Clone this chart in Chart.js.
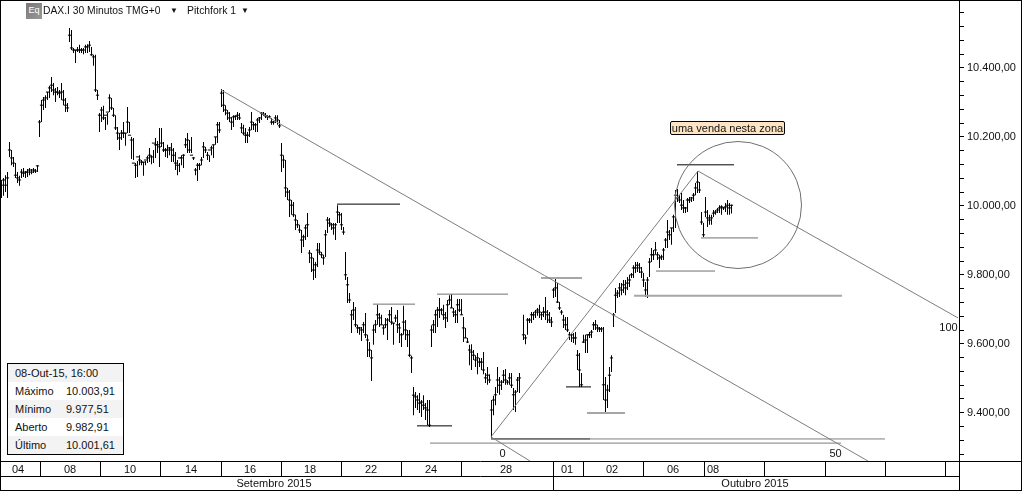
<!DOCTYPE html>
<html>
<head>
<meta charset="utf-8">
<script src="https://cdn.jsdelivr.net/npm/chart.js@4"></script>
<style>
html,body{margin:0;padding:0;background:#fff;width:1022px;height:491px;overflow:hidden}
body{position:relative;font-family:"Liberation Sans",Arial,sans-serif;font-size:11px;color:#111}
canvas{position:absolute;left:0;top:0;outline:1px solid #000;outline-offset:-1px}
.a{position:absolute;white-space:nowrap}
#corner{position:absolute;left:959px;top:461px;width:62px;height:29px;border-top:1px solid #000;border-left:1px solid #000;box-sizing:border-box}
#icon{position:absolute;left:26px;top:3px;width:16px;height:16px;background:linear-gradient(135deg,#777,#999);color:#fff;font-size:9px;line-height:15px;text-align:center}
#note{position:absolute;left:670px;top:121px;width:115px;height:14px;box-sizing:border-box;background:#ffe4c4;border:1px solid #000;border-radius:2px;text-align:center;line-height:12px;font-size:11px}
#info{position:absolute;left:7px;top:363px;width:117px;height:92px;box-sizing:border-box;border:1px solid #000;background:#fff}
#info div.r{position:absolute;left:0;width:115px;height:18px;line-height:18px}
#info span{position:absolute}
</style>
</head>
<body>
<canvas id="c" width="1022" height="491"></canvas>
<div id="corner"></div>
<div id="icon">Eq</div>
<div class="a" style="left:43px;top:4px;font-size:10.3px;line-height:13px">DAX.I 30 Minutos TMG+0</div>
<div class="a" style="left:170px;top:4px;font-size:8px;line-height:13px">▼</div>
<div class="a" style="left:187px;top:4px;font-size:10.4px;line-height:13px">Pitchfork 1</div>
<div class="a" style="left:241px;top:4px;font-size:8px;line-height:13px">▼</div>
<div id="note">uma venda nesta zona</div>
<div id="info">
 <div class="r" style="top:0;background:#f3f3f3"><span style="left:7px">08-Out-15, 16:00</span></div>
 <div class="r" style="top:18px"><span style="left:7px">Máximo</span><span style="left:58px">10.003,91</span></div>
 <div class="r" style="top:36px;background:#f3f3f3"><span style="left:7px">Mínimo</span><span style="left:58px">9.977,51</span></div>
 <div class="r" style="top:54px"><span style="left:7px">Aberto</span><span style="left:58px">9.982,91</span></div>
 <div class="r" style="top:72px;background:#f3f3f3"><span style="left:7px">Último</span><span style="left:58px">10.001,61</span></div>
</div>
<script>
// 30-minute bars, one slot per bar (null = no bar)
const highs = [
10075,10081,10089,10098,10185,10162,10142,10124,10098,10087,
10107,10110,10101,10107,10110,10107,10110,10107,10118,10249,
10307,10316,10321,10330,10348,10374,10356,10342,10345,10336,
10356,10336,10313,10298,10516,10510,10458,10452,10461,10467,
10458,10458,10467,10469,10478,10461,10438,10438,10336,10269,
10287,10290,10258,10269,10324,10313,10284,10263,10229,10211,
10220,10243,10211,10287,10243,10200,10197,10124,10130,10147,
10133,10127,10130,10145,10168,10147,10162,10197,10188,10226,
10226,10185,10168,10177,10171,10182,10168,10156,10133,10124,10147,
10150,10197,10211,10191,10200,10142,10110,10124,10124,
10142,10185,10171,10156,10147,10174,10177,10200,10243,10243,
10339,10336,10292,10278,10272,10258,10263,10263,10272,10269,
10240,10235,10226,10214,10229,10272,10243,10240,10255,10258,
10272,10272,10269,10263,10263,10255,10246,10263,10263,10249,
10182,10147,10133,10052,10046,10017,10011,9974,9959,9945,
9930,9916,9945,9979,9872,9863,9849,9837,9892,9892,
9866,9858,9930,9968,9965,9950,9950,9950,10002,9982,
9979,9939,9866,9794,9747,9698,9721,9707,9655,9649,
9649,9663,9689,9626,9605,9582,9655,9669,9713,9689,
9684,9655,9675,9675,9698,9707,9660,9684,9698,9660,
9631,9710,9669,9640,9640,9565,9475,9460,9451,9457,
9437,9451,9428,9437,9437,9654,9669,9698,9707,9733,
9704,9713,9692,9727,9741,9744,9704,9698,9730,9730,
9730,9678,9646,9617,9597,9599,9582,9567,9573,9559,
9559,9576,9515,9533,9512,9437,9449,9475,9533,9504,
9495,9524,9527,9495,9515,9515,9472,9466,9504,9515,
null,9684,9626,9675,9675,9692,9692,9698,9704,9713,
9692,9707,9736,9698,9692,9678,9762,9788,9776,9721,
9698,9684,9678,9678,9634,9631,9631,9634,9582,9573,
9515,9626,9626,9626,9634,9640,9663,9669,9655,9649,
9649,9649,9504,9481,9533,9567,9689,9762,9756,9776,
9776,9785,9785,9794,9800,9805,9828,9837,9837,9834,
9823,9805,9779,9794,9849,9878,9872,9895,9866,9858,
9858,9878,9907,9959,9930,9936,9974,10046,10049,10031,
10037,10017,9997,10023,10026,10026,10037,10066,10101,10069,
9982,9950,10026,9988,9974,9974,9988,9988,9994,10002,
10002,9997,10008,10017,10008,10003.91];
const lows = [
10023,10029,10040,10023,10142,10118,10113,10081,10066,10058,
10081,10084,10081,10084,10089,10092,10095,10095,10098,10200,
10243,10278,10284,10307,10313,10330,10321,10301,10321,10313,
10307,10292,10272,10272,10475,10452,10443,10414,10446,10443,
10443,10440,10443,10443,10446,10435,10406,10330,10307,10214,
10243,10249,10220,10235,10272,10278,10258,10220,10191,10162,
10191,10197,10174,10211,10211,10136,10133,10081,10084,10118,
10118,10087,10118,10124,10127,10121,10124,10139,10153,10113,
10171,10156,10142,10139,10147,10127,10127,10104,10089,10098,10118,
10110,10168,10153,10153,10153,10133,10089,10072,10104,
10118,10139,10153,10133,10127,10147,10139,10177,10182,10211,
10287,10272,10263,10249,10243,10220,10229,10249,10249,10249,
10211,10205,10182,10182,10200,10220,10220,10214,10214,10240,
10249,10261,10255,10249,10255,10235,10235,10240,10235,10226,
10098,10110,10026,10017,9968,9974,9968,9930,9936,9921,
9863,9881,9901,9910,9834,9808,9785,9791,9823,9858,
9849,9829,9852,9921,9939,9930,9916,9901,9950,9950,
9930,9916,9785,9718,9718,9631,9669,9649,9631,9626,
9608,9631,9617,9562,9562,9492,9597,9631,9655,9649,
9655,9626,9646,9611,9663,9655,9597,9663,9631,9602,
9591,9626,9611,9591,9562,9515,9393,9414,9408,9399,
9388,9408,9379,9364,9359,9591,9631,9631,9649,9675,
9684,9669,9646,9663,9713,9704,9678,9660,9660,9692,
9684,9605,9617,9602,9538,9524,9553,9533,9512,9533,
9524,9512,9486,9481,9486,9327,9393,9422,9457,9452,
9466,9486,9481,9481,9481,9472,9408,9402,9460,9457,
null,9611,9599,9626,9660,9660,9669,9675,9681,9675,
9669,9678,9669,9660,9660,9649,9733,9736,9718,9698,
9684,9646,9640,9634,9611,9605,9602,9597,9524,9475,
9475,9602,9573,9573,9617,9617,9640,9640,9634,9634,
9634,9437,9399,9414,9460,9518,9649,9689,9733,9736,
9741,9747,9741,9756,9765,9791,9791,9805,9808,9805,
9791,9765,9736,9733,9794,9837,9843,9858,9843,9820,
9843,9843,9878,9878,9901,9887,9924,9936,10011,10008,
9988,9979,9979,9982,10008,10011,10014,10031,10037,10037,
9945,9910,9968,9939,9945,9945,9968,9974,9979,9979,
9974,9988,9982,9974,9974,9977.51];
const closes = [
10060,10075,10060,10081,10162,10139,10124,10089,10081,10075,
10098,10095,10098,10098,10104,10098,10104,10101,10116,10243,
10292,10307,10313,10330,10342,10350,10336,10330,10330,10327,
10330,10307,10292,10284,10495,10458,10452,10452,10452,10452,
10452,10452,10461,10461,10466,10438,10432,10336,10321,10263,
10278,10255,10263,10272,10313,10284,10263,10226,10211,10197,
10211,10211,10211,10243,10205,10191,10124,10118,10142,10133,
10127,10127,10133,10139,10147,10142,10182,10177,10177,10171,
10182,10162,10162,10162,10168,10162,10147,10124,10118,10139,10139,
10147,10177,10191,10162,10147,10139,10104,10118,10118,
10133,10171,10162,10147,10162,10168,10177,10200,10235,10220,
10327,10292,10278,10269,10255,10243,10258,10260,10263,10255,
10226,10211,10205,10205,10220,10243,10235,10235,10249,10255,
10269,10266,10261,10258,10258,10243,10243,10255,10249,10232,
10147,10133,10052,10040,10017,10002,9974,9959,9945,9930,
9901,9910,9936,9945,9863,9849,9814,9829,9872,9866,
9858,9849,9916,9959,9950,9945,9936,9945,9982,9974,
9945,9924,9800,9771,9727,9684,9698,9655,9646,9646,
9640,9655,9626,9611,9582,9559,9640,9655,9684,9675,
9655,9646,9655,9669,9684,9663,9660,9675,9655,9646,
9626,9663,9640,9626,9567,9559,9451,9446,9437,9428,
9431,9422,9414,9408,9364,9640,9655,9684,9698,9698,
9698,9684,9675,9713,9727,9704,9692,9684,9713,9698,
9684,9646,9617,9605,9582,9576,9567,9553,9559,9547,
9547,9524,9501,9509,9495,9408,9437,9452,9495,9480,
9489,9509,9495,9489,9501,9480,9452,9460,9495,9501,
null,9626,9617,9669,9669,9684,9684,9692,9698,9692,
9684,9692,9692,9684,9669,9663,9756,9762,9721,9704,
9692,9669,9655,9640,9626,9626,9617,9617,9567,9524,
9481,9605,9611,9626,9626,9634,9655,9655,9646,9643,
9643,9481,9437,9466,9509,9559,9684,9741,9747,9762,
9756,9771,9762,9776,9785,9800,9820,9820,9828,9820,
9808,9785,9756,9785,9837,9858,9858,9872,9858,9849,
9852,9872,9901,9924,9916,9936,9968,10031,10023,10017,
10002,9994,9994,10017,10017,10023,10031,10052,10069,10046,
9953,9916,9982,9965,9959,9965,9979,9982,9988,9994,
9997,9994,9997,10002,9994,10001.61];

// Axis ticks (slot numbers along the time axis)
const dateSlots  = [8.25,34.25,64.25,94.75,124.25,154.25,184.75,214.75,252.25,282.75,305.25,335.75,355.75];
const dateLabels = ['04','08','10','14','16','18','22','24','28','01','02','06','08'];
const dividerSlots = [19.25,49.25,79.25,109.75,139.75,169.75,199.75,229.75,275.75,290.75,320.75,351.25,381.25,411.75,441.75,471.75];
const monthSlots  = [136.25,376.75];
const monthLabels = ['Setembro 2015','Outubro 2015'];
const monthDivider = [275.75];
const priceMin = 9260.1, priceMax = 10594.1, priceStep = 40;

// Pitchfork lines: [slotA, priceA, slotB, priceB]
const forkLines = [
 [109.75,10336,433.25,9260],
 [244.75,9330,348.25,10101],
 [348.25,10101,478.25,9675],
 [244.75,9330,264.25,9260],
 [214.25,9312,419.75,9312],
 [294.25,9324,441.75,9324]
];
// Horizontal levels: [slotA, slotB, price]
const blackLevels = [[167.75,199.25,10005],[207.75,225.25,9362],[282.25,294.75,9475],[337.75,366.25,10119],[244.75,294.25,9324]];
const grayLevels  = [[185.75,206.75,9715],[217.75,253.25,9744],[327.25,356.75,9811],[349.75,378.25,9907]];
const paleLevels  = [[269.75,290.25,9791],[292.75,311.75,9399],[316.25,420.25,9739]];
// Circle drawn round the sale zone
const zoneCentreSlot = 368.25, zoneCentrePrice = 10002.5;
// Fibonacci labels of the fork
const forkLabels = ['0','50','100'];
const forkLabelSlots = [250.5,417,473.5];
const forkLabelPrices = [9280,9280,9646];

const barPoints = [], closePoints = [];
highs.forEach((h,i)=>{ if(h===null) return;
  barPoints.push({x:i,y:[lows[i],h]});
  closePoints.push({x:i,y:closes[i]});
});
const seg = (pts,color,width)=>({type:'scatter',showLine:true,data:pts,borderColor:color,borderWidth:width,pointRadius:0,xAxisID:'x',yAxisID:'y',order:1});
const datasets = [
 {type:'bar',data:barPoints,backgroundColor:'#000',barThickness:1,inflateAmount:0,borderWidth:0,xAxisID:'x',yAxisID:'y',order:3},
 {type:'scatter',data:closePoints,pointStyle:'line',pointRadius:1.6,pointBorderColor:'#000',pointBorderWidth:1,pointBackgroundColor:'#000',xAxisID:'x',yAxisID:'y',order:2},
 {type:'scatter',data:[{x:zoneCentreSlot,y:zoneCentrePrice}],pointRadius:63.5,pointBorderColor:'#6e6e6e',pointBorderWidth:1,pointBackgroundColor:'rgba(0,0,0,0)',xAxisID:'x',yAxisID:'y',order:1,clip:false}
];
forkLines.forEach(l=>datasets.push(seg([{x:l[0],y:l[1]},{x:l[2],y:l[3]}],'#7d7d7d',1)));
blackLevels.forEach(l=>datasets.push(seg([{x:l[0],y:l[2]},{x:l[1],y:l[2]}],'#000',1)));
grayLevels.forEach(l=>datasets.push(seg([{x:l[0],y:l[2]},{x:l[1],y:l[2]}],'#707070',1)));
paleLevels.forEach(l=>datasets.push(seg([{x:l[0],y:l[2]},{x:l[1],y:l[2]}],'#a6a6a6',2)));

const fmt = v=>{ const n=Math.round(v); const t=Math.floor(n/1000); const r=String(n%1000).padStart(3,'0'); return t+'.'+r+',00'; };
const forkLabelPlugin = {id:'forkLabelPlugin',afterDatasetsDraw(c){
  const g=c.ctx; g.save(); g.font='11px "Liberation Sans"'; g.fillStyle='#111'; g.textAlign='center'; g.textBaseline='middle';
  forkLabels.forEach((t,i)=>g.fillText(t,c.scales.x.getPixelForValue(forkLabelSlots[i]),c.scales.y.getPixelForValue(forkLabelPrices[i])));
  g.restore();
}};
const tickFont = {family:'"Liberation Sans"',size:11};
const bottomAxis = (h,weight,slots,labels,dividers,pad)=>{
  const all = slots.map((s,i)=>({value:s,text:labels[i]})).concat(dividers.map(s=>({value:s,text:''}))).sort((a,b)=>a.value-b.value);
  return {type:'linear',axis:'x',position:'bottom',weight,min:-0.25,max:478.75,offset:false,
    afterFit(s){s.height=h;s.paddingLeft=0;s.paddingRight=0;},
    afterBuildTicks(s){s.ticks=all.map(t=>({value:t.value}));},
    border:{display:true,color:'#000',width:1},
    grid:{offset:false,drawOnChartArea:false,drawTicks:true,tickLength:h,tickWidth:1,tickColor:ctx=>(ctx.tick&&all.find(t=>t.value===ctx.tick.value&&t.text===''))?'#000':'rgba(0,0,0,0)'},
    ticks:{autoSkip:false,maxRotation:0,minRotation:0,padding:pad,color:'#111',font:tickFont,
      callback(v){const t=all.find(a=>a.value===v);return t?t.text:'';}}
  };
};
new Chart(document.getElementById('c'),{
  type:'bar',
  data:{datasets},
  plugins:[forkLabelPlugin],
  options:{
    responsive:false,animation:false,
    layout:{autoPadding:false,padding:{left:1,top:1,right:0,bottom:1}},
    plugins:{legend:{display:false},tooltip:{enabled:false}},
    scales:{
      x:bottomAxis(15,0,dateSlots,dateLabels,dividerSlots,-13),
      month:bottomAxis(14,1,monthSlots,monthLabels,monthDivider,-13),
      y:{type:'linear',position:'right',min:priceMin,max:priceMax,
        afterFit(s){s.width=63;s.paddingTop=0;s.paddingBottom=0;},
        afterBuildTicks(s){const t=[];for(let v=9280;v<=10560;v+=priceStep)t.push({value:v});s.ticks=t;},
        border:{display:true,color:'#000',width:1},
        grid:{drawOnChartArea:false,drawTicks:true,tickLength:5,tickColor:'#000'},
        ticks:{autoSkip:false,padding:3,color:'#111',font:tickFont,align:'center',
          callback(v){return v%200===0?fmt(v):'';}}
      }
    }
  }
});
</script>
</body>
</html>
